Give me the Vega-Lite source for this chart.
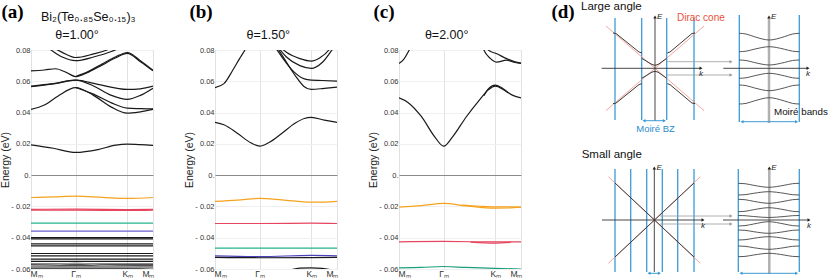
{
"$schema":"https://vega.github.io/schema/vega-lite/v6.json",
"autosize":{"type":"pad"},
"padding":{"left":0,"top":1,"right":0,"bottom":0},
"background":"white",
"config":{"font":"Liberation Sans","view":{"stroke":"#999","strokeWidth":1}},
"bounds":"flush",
"spacing":62,
"resolve":{"scale":{"color":"independent","shape":"independent"}},
"datasets":{
"bands":[
{"p":"a","b":"a01","t":"o","k":0.35,"E":0.082},{"p":"a","b":"a01","t":"o","k":0.45,"E":0.080},{"p":"a","b":"a01","t":"o","k":0.7,"E":0.0755},{"p":"a","b":"a01","t":"o","k":1,"E":0.0732},{"p":"a","b":"a01","t":"o","k":1.4,"E":0.0755},{"p":"a","b":"a01","t":"o","k":1.8,"E":0.079},{"p":"a","b":"a01","t":"o","k":2.0,"E":0.0815},
{"p":"a","b":"a02","t":"o","k":0.5,"E":0.0815},{"p":"a","b":"a02","t":"o","k":0.7,"E":0.0785},{"p":"a","b":"a02","t":"o","k":1,"E":0.0752},{"p":"a","b":"a02","t":"o","k":1.4,"E":0.0775},{"p":"a","b":"a02","t":"o","k":1.7,"E":0.080},{"p":"a","b":"a02","t":"o","k":1.8,"E":0.0815},
{"p":"a","b":"a03","t":"o","k":0,"E":0.0667},{"p":"a","b":"a03","t":"o","k":0.3,"E":0.0672},{"p":"a","b":"a03","t":"o","k":0.55,"E":0.068},{"p":"a","b":"a03","t":"o","k":0.8,"E":0.0655},{"p":"a","b":"a03","t":"o","k":1,"E":0.063},{"p":"a","b":"a03","t":"o","k":1.3,"E":0.066},{"p":"a","b":"a03","t":"o","k":1.6,"E":0.0705},{"p":"a","b":"a03","t":"o","k":1.9,"E":0.075},{"p":"a","b":"a03","t":"o","k":2.155,"E":0.0778},{"p":"a","b":"a03","t":"o","k":2.45,"E":0.0725},{"p":"a","b":"a03","t":"o","k":2.732,"E":0.0667},
{"p":"a","b":"a04","t":"o","k":1,"E":0.063},{"p":"a","b":"a04","t":"o","k":1.3,"E":0.0665},{"p":"a","b":"a04","t":"o","k":1.6,"E":0.0712},{"p":"a","b":"a04","t":"o","k":1.9,"E":0.0757},{"p":"a","b":"a04","t":"o","k":2.155,"E":0.0784},{"p":"a","b":"a04","t":"o","k":2.45,"E":0.0732},{"p":"a","b":"a04","t":"o","k":2.732,"E":0.067},
{"p":"a","b":"a05","t":"o","k":0,"E":0.0569},{"p":"a","b":"a05","t":"o","k":0.5,"E":0.0585},{"p":"a","b":"a05","t":"o","k":1,"E":0.0607},{"p":"a","b":"a05","t":"o","k":1.5,"E":0.058},{"p":"a","b":"a05","t":"o","k":2.155,"E":0.0548},{"p":"a","b":"a05","t":"o","k":2.45,"E":0.0552},{"p":"a","b":"a05","t":"o","k":2.732,"E":0.0569},
{"p":"a","b":"a06","t":"o","k":0,"E":0.0565},{"p":"a","b":"a06","t":"o","k":0.5,"E":0.0583},{"p":"a","b":"a06","t":"o","k":1,"E":0.0607},{"p":"a","b":"a06","t":"o","k":1.4,"E":0.057},{"p":"a","b":"a06","t":"o","k":1.8,"E":0.051},{"p":"a","b":"a06","t":"o","k":2.155,"E":0.0484},{"p":"a","b":"a06","t":"o","k":2.45,"E":0.051},{"p":"a","b":"a06","t":"o","k":2.732,"E":0.0556},
{"p":"a","b":"a07","t":"o","k":0,"E":0.042},{"p":"a","b":"a07","t":"o","k":0.3,"E":0.0448},{"p":"a","b":"a07","t":"o","k":0.6,"E":0.0505},{"p":"a","b":"a07","t":"o","k":1,"E":0.056},{"p":"a","b":"a07","t":"o","k":1.4,"E":0.051},{"p":"a","b":"a07","t":"o","k":1.8,"E":0.0435},{"p":"a","b":"a07","t":"o","k":2.155,"E":0.0396},{"p":"a","b":"a07","t":"o","k":2.45,"E":0.0405},{"p":"a","b":"a07","t":"o","k":2.732,"E":0.042},
{"p":"a","b":"a08","t":"o","k":1,"E":0.056},{"p":"a","b":"a08","t":"o","k":1.4,"E":0.0518},{"p":"a","b":"a08","t":"o","k":1.8,"E":0.0462},{"p":"a","b":"a08","t":"o","k":2.155,"E":0.0428},{"p":"a","b":"a08","t":"o","k":2.45,"E":0.0425},{"p":"a","b":"a08","t":"o","k":2.732,"E":0.0423},
{"p":"a","b":"a09","t":"o","k":0,"E":0.0194},{"p":"a","b":"a09","t":"o","k":0.5,"E":0.0172},{"p":"a","b":"a09","t":"o","k":1,"E":0.0145},{"p":"a","b":"a09","t":"o","k":1.5,"E":0.0163},{"p":"a","b":"a09","t":"o","k":1.9,"E":0.0192},{"p":"a","b":"a09","t":"o","k":2.155,"E":0.0198},{"p":"a","b":"a09","t":"o","k":2.45,"E":0.0195},{"p":"a","b":"a09","t":"o","k":2.732,"E":0.019},
{"p":"a","b":"a10","t":"v1","k":0,"E":-0.0143},{"p":"a","b":"a10","t":"v1","k":0.5,"E":-0.0139},{"p":"a","b":"a10","t":"v1","k":1,"E":-0.0134},{"p":"a","b":"a10","t":"v1","k":1.6,"E":-0.0142},{"p":"a","b":"a10","t":"v1","k":2.155,"E":-0.0149},{"p":"a","b":"a10","t":"v1","k":2.732,"E":-0.0143},
{"p":"a","b":"a11","t":"v2","k":0,"E":-0.0219},{"p":"a","b":"a11","t":"v2","k":1,"E":-0.0217},{"p":"a","b":"a11","t":"v2","k":2.155,"E":-0.022},{"p":"a","b":"a11","t":"v2","k":2.732,"E":-0.0219},
{"p":"a","b":"a12","t":"v2","k":0,"E":-0.0224},{"p":"a","b":"a12","t":"v2","k":1,"E":-0.0224},{"p":"a","b":"a12","t":"v2","k":2.155,"E":-0.0226},{"p":"a","b":"a12","t":"v2","k":2.732,"E":-0.0224},
{"p":"a","b":"a13","t":"v3","k":0,"E":-0.0307},{"p":"a","b":"a13","t":"v3","k":2.732,"E":-0.0307},
{"p":"a","b":"a14","t":"v4","k":0,"E":-0.0358},{"p":"a","b":"a14","t":"v4","k":2.732,"E":-0.0358},
{"p":"a","b":"a15","t":"o","k":0,"E":-0.040},{"p":"a","b":"a15","t":"o","k":2.732,"E":-0.040},
{"p":"a","b":"a16","t":"o","k":0,"E":-0.0408},{"p":"a","b":"a16","t":"o","k":2.732,"E":-0.0408},
{"p":"a","b":"a17","t":"o","k":0,"E":-0.044},{"p":"a","b":"a17","t":"o","k":2.732,"E":-0.044},
{"p":"a","b":"a18","t":"o","k":0,"E":-0.0452},{"p":"a","b":"a18","t":"o","k":2.732,"E":-0.0452},
{"p":"a","b":"a19","t":"o","k":0,"E":-0.0501},{"p":"a","b":"a19","t":"o","k":2.732,"E":-0.0501},
{"p":"a","b":"a20","t":"o","k":0,"E":-0.0516},{"p":"a","b":"a20","t":"o","k":2.732,"E":-0.0516},
{"p":"a","b":"a21","t":"o","k":0,"E":-0.0537},{"p":"a","b":"a21","t":"o","k":2.732,"E":-0.0537},
{"p":"a","b":"a22","t":"o","k":0,"E":-0.0551},{"p":"a","b":"a22","t":"o","k":2.732,"E":-0.0551},
{"p":"a","b":"a23","t":"o","k":0,"E":-0.0569},{"p":"a","b":"a23","t":"o","k":2.732,"E":-0.0569},
{"p":"a","b":"a24","t":"o","k":0,"E":-0.058},{"p":"a","b":"a24","t":"o","k":2.732,"E":-0.058},
{"p":"a","b":"a25","t":"o","k":0,"E":-0.0594},{"p":"a","b":"a25","t":"o","k":2.732,"E":-0.0594},
{"p":"a","b":"a26","t":"f","k":0,"E":-0.0578},{"p":"a","b":"a26","t":"f","k":0.6,"E":-0.0572},{"p":"a","b":"a26","t":"f","k":1,"E":-0.0562},{"p":"a","b":"a26","t":"f","k":1.5,"E":-0.0575},{"p":"a","b":"a26","t":"f","k":2.155,"E":-0.0583},{"p":"a","b":"a26","t":"f","k":2.732,"E":-0.0598},

{"p":"b","b":"b01","t":"o","k":0,"E":0.056},{"p":"b","b":"b01","t":"o","k":0.2,"E":0.0585},{"p":"b","b":"b01","t":"o","k":0.4,"E":0.0672},{"p":"b","b":"b01","t":"o","k":0.55,"E":0.0745},{"p":"b","b":"b01","t":"o","k":0.67,"E":0.080},{"p":"b","b":"b01","t":"o","k":0.75,"E":0.0845},
{"p":"b","b":"b02","t":"o","k":1.32,"E":0.083},{"p":"b","b":"b02","t":"o","k":1.5,"E":0.0755},{"p":"b","b":"b02","t":"o","k":1.75,"E":0.0665},{"p":"b","b":"b02","t":"o","k":2.0,"E":0.0615},{"p":"b","b":"b02","t":"o","k":2.155,"E":0.0607},{"p":"b","b":"b02","t":"o","k":2.4,"E":0.0605},{"p":"b","b":"b02","t":"o","k":2.732,"E":0.0601},
{"p":"b","b":"b03","t":"o","k":1.36,"E":0.083},{"p":"b","b":"b03","t":"o","k":1.55,"E":0.0745},{"p":"b","b":"b03","t":"o","k":1.8,"E":0.0635},{"p":"b","b":"b03","t":"o","k":2.0,"E":0.0565},{"p":"b","b":"b03","t":"o","k":2.155,"E":0.0548},{"p":"b","b":"b03","t":"o","k":2.45,"E":0.0555},{"p":"b","b":"b03","t":"o","k":2.732,"E":0.0563},
{"p":"b","b":"b04","t":"o","k":1.42,"E":0.083},{"p":"b","b":"b04","t":"o","k":1.6,"E":0.0785},{"p":"b","b":"b04","t":"o","k":1.9,"E":0.0745},{"p":"b","b":"b04","t":"o","k":2.155,"E":0.0729},{"p":"b","b":"b04","t":"o","k":2.35,"E":0.075},{"p":"b","b":"b04","t":"o","k":2.55,"E":0.080},{"p":"b","b":"b04","t":"o","k":2.62,"E":0.083},
{"p":"b","b":"b05","t":"o","k":1.38,"E":0.083},{"p":"b","b":"b05","t":"o","k":1.6,"E":0.0755},{"p":"b","b":"b05","t":"o","k":1.9,"E":0.070},{"p":"b","b":"b05","t":"o","k":2.155,"E":0.0682},{"p":"b","b":"b05","t":"o","k":2.4,"E":0.072},{"p":"b","b":"b05","t":"o","k":2.62,"E":0.080},{"p":"b","b":"b05","t":"o","k":2.7,"E":0.083},
{"p":"b","b":"b06","t":"o","k":0,"E":0.0337},{"p":"b","b":"b06","t":"o","k":0.2,"E":0.0322},{"p":"b","b":"b06","t":"o","k":0.5,"E":0.0268},{"p":"b","b":"b06","t":"o","k":0.8,"E":0.0207},{"p":"b","b":"b06","t":"o","k":1,"E":0.0185},{"p":"b","b":"b06","t":"o","k":1.2,"E":0.0207},{"p":"b","b":"b06","t":"o","k":1.5,"E":0.0268},{"p":"b","b":"b06","t":"o","k":1.8,"E":0.0333},{"p":"b","b":"b06","t":"o","k":2.0,"E":0.0362},{"p":"b","b":"b06","t":"o","k":2.155,"E":0.0369},{"p":"b","b":"b06","t":"o","k":2.45,"E":0.0352},{"p":"b","b":"b06","t":"o","k":2.732,"E":0.0337},
{"p":"b","b":"b07","t":"v1","k":0,"E":-0.0168},{"p":"b","b":"b07","t":"v1","k":0.5,"E":-0.016},{"p":"b","b":"b07","t":"v1","k":1,"E":-0.0149},{"p":"b","b":"b07","t":"v1","k":1.5,"E":-0.0158},{"p":"b","b":"b07","t":"v1","k":2.155,"E":-0.0173},{"p":"b","b":"b07","t":"v1","k":2.45,"E":-0.0172},{"p":"b","b":"b07","t":"v1","k":2.732,"E":-0.0168},
{"p":"b","b":"b08","t":"v2","k":0,"E":-0.0309},{"p":"b","b":"b08","t":"v2","k":1,"E":-0.0309},{"p":"b","b":"b08","t":"v2","k":2.155,"E":-0.0307},{"p":"b","b":"b08","t":"v2","k":2.732,"E":-0.0309},
{"p":"b","b":"b09","t":"v3","k":0,"E":-0.0467},{"p":"b","b":"b09","t":"v3","k":2.732,"E":-0.0467},
{"p":"b","b":"b10","t":"v4","k":0,"E":-0.0516},{"p":"b","b":"b10","t":"v4","k":1,"E":-0.0521},{"p":"b","b":"b10","t":"v4","k":2.155,"E":-0.0513},{"p":"b","b":"b10","t":"v4","k":2.732,"E":-0.0516},
{"p":"b","b":"b11","t":"o","k":0,"E":-0.0526},{"p":"b","b":"b11","t":"o","k":1,"E":-0.0528},{"p":"b","b":"b11","t":"o","k":2.155,"E":-0.0527},{"p":"b","b":"b11","t":"o","k":2.732,"E":-0.0526},
{"p":"b","b":"b12","t":"o","k":1.7,"E":-0.0605},{"p":"b","b":"b12","t":"o","k":1.9,"E":-0.0595},{"p":"b","b":"b12","t":"o","k":2.155,"E":-0.0593},{"p":"b","b":"b12","t":"o","k":2.4,"E":-0.0596},{"p":"b","b":"b12","t":"o","k":2.6,"E":-0.0605},

{"p":"c","b":"c01","t":"o","k":0,"E":0.0714},{"p":"c","b":"c01","t":"o","k":0.1,"E":0.0738},{"p":"c","b":"c01","t":"o","k":0.23,"E":0.080},{"p":"c","b":"c01","t":"o","k":0.3,"E":0.084},
{"p":"c","b":"c02","t":"o","k":1.86,"E":0.083},{"p":"c","b":"c02","t":"o","k":1.9,"E":0.080},{"p":"c","b":"c02","t":"o","k":2.05,"E":0.0745},{"p":"c","b":"c02","t":"o","k":2.19,"E":0.0722},{"p":"c","b":"c02","t":"o","k":2.41,"E":0.0735},{"p":"c","b":"c02","t":"o","k":2.6,"E":0.072},{"p":"c","b":"c02","t":"o","k":2.732,"E":0.0714},
{"p":"c","b":"c03","t":"o","k":1.95,"E":0.083},{"p":"c","b":"c03","t":"o","k":2.0,"E":0.080},{"p":"c","b":"c03","t":"o","k":2.19,"E":0.0776},{"p":"c","b":"c03","t":"o","k":2.41,"E":0.0745},{"p":"c","b":"c03","t":"o","k":2.6,"E":0.0725},{"p":"c","b":"c03","t":"o","k":2.732,"E":0.0716},
{"p":"c","b":"c04","t":"o","k":0,"E":0.0494},{"p":"c","b":"c04","t":"o","k":0.2,"E":0.0465},{"p":"c","b":"c04","t":"o","k":0.5,"E":0.0375},{"p":"c","b":"c04","t":"o","k":0.8,"E":0.0245},{"p":"c","b":"c04","t":"o","k":1,"E":0.0185},{"p":"c","b":"c04","t":"o","k":1.2,"E":0.0245},{"p":"c","b":"c04","t":"o","k":1.5,"E":0.037},{"p":"c","b":"c04","t":"o","k":1.8,"E":0.048},{"p":"c","b":"c04","t":"o","k":2.0,"E":0.0545},{"p":"c","b":"c04","t":"o","k":2.155,"E":0.0569},{"p":"c","b":"c04","t":"o","k":2.35,"E":0.0545},{"p":"c","b":"c04","t":"o","k":2.55,"E":0.051},{"p":"c","b":"c04","t":"o","k":2.732,"E":0.0494},
{"p":"c","b":"c05","t":"o","k":1.9,"E":0.0508},{"p":"c","b":"c05","t":"o","k":2.0,"E":0.0552},{"p":"c","b":"c05","t":"o","k":2.155,"E":0.0576},{"p":"c","b":"c05","t":"o","k":2.3,"E":0.0558},{"p":"c","b":"c05","t":"o","k":2.45,"E":0.0525},
{"p":"c","b":"c06","t":"v1","k":0,"E":-0.0205},{"p":"c","b":"c06","t":"v1","k":0.5,"E":-0.0195},{"p":"c","b":"c06","t":"v1","k":1,"E":-0.0181},{"p":"c","b":"c06","t":"v1","k":1.5,"E":-0.0196},{"p":"c","b":"c06","t":"v1","k":2.155,"E":-0.0211},{"p":"c","b":"c06","t":"v1","k":2.45,"E":-0.021},{"p":"c","b":"c06","t":"v1","k":2.732,"E":-0.0205},
{"p":"c","b":"c07","t":"v1","k":1.4,"E":-0.0192},{"p":"c","b":"c07","t":"v1","k":1.8,"E":-0.0199},{"p":"c","b":"c07","t":"v1","k":2.155,"E":-0.0203},{"p":"c","b":"c07","t":"v1","k":2.45,"E":-0.0203},{"p":"c","b":"c07","t":"v1","k":2.732,"E":-0.0204},
{"p":"c","b":"c08","t":"v2","k":0,"E":-0.0426},{"p":"c","b":"c08","t":"v2","k":1,"E":-0.0424},{"p":"c","b":"c08","t":"v2","k":2.155,"E":-0.0427},{"p":"c","b":"c08","t":"v2","k":2.732,"E":-0.0426},
{"p":"c","b":"c09","t":"v2","k":1.6,"E":-0.0428},{"p":"c","b":"c09","t":"v2","k":2.155,"E":-0.0434},{"p":"c","b":"c09","t":"v2","k":2.5,"E":-0.043},
{"p":"c","b":"c10","t":"v3","k":0,"E":-0.0593},{"p":"c","b":"c10","t":"v3","k":0.5,"E":-0.059},{"p":"c","b":"c10","t":"v3","k":1,"E":-0.0584},{"p":"c","b":"c10","t":"v3","k":1.5,"E":-0.059},{"p":"c","b":"c10","t":"v3","k":2.155,"E":-0.0596},{"p":"c","b":"c10","t":"v3","k":2.732,"E":-0.06}
],
"ptext":[
{"p":"a","r":"panel","k":-0.414,"E":0.1045,"s":"(a)"},
{"p":"a","r":"title","k":1.283,"E":0.1012,"s":"Bi₂(Te₀.₈₅Se₀.₁₅)₃"},
{"p":"a","r":"title","k":1.03,"E":0.0895,"s":"θ=1.00°"},
{"p":"b","r":"panel","k":-0.313,"E":0.1045,"s":"(b)"},
{"p":"b","r":"title","k":1.194,"E":0.0895,"s":"θ=1.50°"},
{"p":"c","r":"panel","k":-0.336,"E":0.1045,"s":"(c)"},
{"p":"c","r":"title","k":1.068,"E":0.0895,"s":"θ=2.00°"}
],
"drules":[
{"g":"bz","x":615,"y":18,"x2":615,"y2":120},{"g":"bz","x":641.7,"y":18,"x2":641.7,"y2":120},{"g":"bz","x":666.7,"y":18,"x2":666.7,"y2":120},{"g":"bz","x":694,"y":18,"x2":694,"y2":120},
{"g":"bz","x":739.3,"y":15,"x2":739.3,"y2":122},{"g":"bz","x":799.3,"y":15,"x2":799.3,"y2":122},
{"g":"bz","x":615,"y":169,"x2":615,"y2":272},{"g":"bz","x":630.7,"y":169,"x2":630.7,"y2":272},{"g":"bz","x":646.7,"y":169,"x2":646.7,"y2":272},{"g":"bz","x":662.3,"y":169,"x2":662.3,"y2":272},{"g":"bz","x":677.7,"y":169,"x2":677.7,"y2":272},{"g":"bz","x":694,"y":169,"x2":694,"y2":272},
{"g":"bz","x":738.3,"y":169,"x2":738.3,"y2":272},{"g":"bz","x":799.3,"y":169,"x2":799.3,"y2":272},
{"g":"cone","x":606,"y":26,"x2":704,"y2":110.6},{"g":"cone","x":606,"y":110.6,"x2":704,"y2":26},
{"g":"cone","x":608.3,"y":176.7,"x2":700.3,"y2":263.3},{"g":"cone","x":608.3,"y":263.3,"x2":700.3,"y2":176.7},
{"g":"ax","x":655,"y":121,"x2":655,"y2":17},{"g":"ax","x":601.7,"y":68.3,"x2":701,"y2":68.3},{"g":"ax","x":723.3,"y":68.3,"x2":808,"y2":68.3},
{"g":"ax","x":654.3,"y":272,"x2":654.3,"y2":168},{"g":"ax","x":602,"y":220,"x2":703,"y2":220},{"g":"ax","x":723,"y":220,"x2":809,"y2":220},
{"g":"gax","x":769,"y":123,"x2":769,"y2":17},{"g":"gax","x":769.3,"y":274,"x2":769.3,"y2":168},
{"g":"arr","x":666.7,"y":61.7,"x2":731,"y2":61.7},{"g":"arr","x":666.7,"y":75,"x2":731,"y2":75},
{"g":"arr","x":660,"y":216,"x2":731,"y2":216},{"g":"arr","x":660,"y":224,"x2":731,"y2":224},
{"g":"bzarr","x":644,"y":120.7,"x2":664.4,"y2":120.7},{"g":"bzarr","x":742,"y":121.7,"x2":796.6,"y2":121.7},
{"g":"bzarr","x":649,"y":273.3,"x2":659.4,"y2":273.3},{"g":"bzarr","x":741,"y":273.3,"x2":796.6,"y2":273.3}
],
"segs":[
{"s":"s1","x":613,"y":33},{"s":"s1","x":616,"y":33.5},{"s":"s1","x":639,"y":52},{"s":"s1","x":642,"y":53},
{"s":"s2","x":641.7,"y":58.3},{"s":"s2","x":652,"y":64.5},{"s":"s2","x":655,"y":65.3},{"s":"s2","x":658,"y":64.5},{"s":"s2","x":666.7,"y":58.3},
{"s":"s3","x":667.3,"y":53},{"s":"s3","x":670,"y":52},{"s":"s3","x":692,"y":33.5},{"s":"s3","x":695,"y":33},
{"s":"s4","x":613,"y":103.6},{"s":"s4","x":616,"y":103.1},{"s":"s4","x":639,"y":84.6},{"s":"s4","x":642,"y":83.6},
{"s":"s5","x":641.7,"y":78.3},{"s":"s5","x":652,"y":72.1},{"s":"s5","x":655,"y":71.3},{"s":"s5","x":658,"y":72.1},{"s":"s5","x":666.7,"y":78.3},
{"s":"s6","x":667.3,"y":83.6},{"s":"s6","x":670,"y":84.6},{"s":"s6","x":692,"y":103.1},{"s":"s6","x":695,"y":103.6},
{"s":"s7","x":615,"y":183},{"s":"s7","x":694,"y":257},
{"s":"s8","x":615,"y":257},{"s":"s8","x":694,"y":183}
],
"waves":[
{"w":"t1","x":739.3,"y":33.3},{"w":"t1","x":746,"y":34.0},{"w":"t1","x":754.3,"y":36.7},{"w":"t1","x":769.3,"y":40},{"w":"t1","x":784.3,"y":36.7},{"w":"t1","x":792.6,"y":34.0},{"w":"t1","x":799.3,"y":33.3},
{"w":"t2","x":739.3,"y":51.7},{"w":"t2","x":746,"y":51.2},{"w":"t2","x":754.3,"y":49.2},{"w":"t2","x":769.3,"y":46.7},{"w":"t2","x":784.3,"y":49.2},{"w":"t2","x":792.6,"y":51.2},{"w":"t2","x":799.3,"y":51.7},
{"w":"t3","x":739.3,"y":60},{"w":"t3","x":746,"y":60.5},{"w":"t3","x":754.3,"y":62.5},{"w":"t3","x":769.3,"y":65},{"w":"t3","x":784.3,"y":62.5},{"w":"t3","x":792.6,"y":60.5},{"w":"t3","x":799.3,"y":60},
{"w":"t4","x":739.3,"y":78.3},{"w":"t4","x":746,"y":77.8},{"w":"t4","x":754.3,"y":75.8},{"w":"t4","x":769.3,"y":73.3},{"w":"t4","x":784.3,"y":75.8},{"w":"t4","x":792.6,"y":77.8},{"w":"t4","x":799.3,"y":78.3},
{"w":"t5","x":739.3,"y":85},{"w":"t5","x":746,"y":85.6},{"w":"t5","x":754.3,"y":87.9},{"w":"t5","x":769.3,"y":90.7},{"w":"t5","x":784.3,"y":87.9},{"w":"t5","x":792.6,"y":85.6},{"w":"t5","x":799.3,"y":85},
{"w":"t6","x":739.3,"y":104},{"w":"t6","x":746,"y":103.4},{"w":"t6","x":754.3,"y":100.9},{"w":"t6","x":769.3,"y":97.7},{"w":"t6","x":784.3,"y":100.9},{"w":"t6","x":792.6,"y":103.4},{"w":"t6","x":799.3,"y":104},
{"w":"u1","x":738.3,"y":183.3},{"w":"u1","x":745,"y":183.7},{"w":"u1","x":753.6,"y":185.3},{"w":"u1","x":768.8,"y":187.3},{"w":"u1","x":784.1,"y":185.3},{"w":"u1","x":792.6,"y":183.7},{"w":"u1","x":799.3,"y":183.3},
{"w":"u2","x":738.3,"y":195},{"w":"u2","x":745,"y":194.7},{"w":"u2","x":753.6,"y":193.3},{"w":"u2","x":768.8,"y":191.7},{"w":"u2","x":784.1,"y":193.3},{"w":"u2","x":792.6,"y":194.7},{"w":"u2","x":799.3,"y":195},
{"w":"u3","x":738.3,"y":199.3},{"w":"u3","x":745,"y":199.7},{"w":"u3","x":753.6,"y":201.3},{"w":"u3","x":768.8,"y":203.3},{"w":"u3","x":784.1,"y":201.3},{"w":"u3","x":792.6,"y":199.7},{"w":"u3","x":799.3,"y":199.3},
{"w":"u4","x":738.3,"y":211.7},{"w":"u4","x":745,"y":211.3},{"w":"u4","x":753.6,"y":209.7},{"w":"u4","x":768.8,"y":207.7},{"w":"u4","x":784.1,"y":209.7},{"w":"u4","x":792.6,"y":211.3},{"w":"u4","x":799.3,"y":211.7},
{"w":"u5","x":738.3,"y":215.5},{"w":"u5","x":745,"y":215.7},{"w":"u5","x":753.6,"y":216.5},{"w":"u5","x":768.8,"y":217.5},{"w":"u5","x":784.1,"y":216.5},{"w":"u5","x":792.6,"y":215.7},{"w":"u5","x":799.3,"y":215.5},
{"w":"u6","x":738.3,"y":226},{"w":"u6","x":745,"y":225.6},{"w":"u6","x":753.6,"y":224},{"w":"u6","x":768.8,"y":221.7},{"w":"u6","x":784.1,"y":224},{"w":"u6","x":792.6,"y":225.6},{"w":"u6","x":799.3,"y":226},
{"w":"u7","x":738.3,"y":230},{"w":"u7","x":745,"y":230.3},{"w":"u7","x":753.6,"y":231.7},{"w":"u7","x":768.8,"y":233.3},{"w":"u7","x":784.1,"y":231.7},{"w":"u7","x":792.6,"y":230.3},{"w":"u7","x":799.3,"y":230},
{"w":"u8","x":738.3,"y":240},{"w":"u8","x":745,"y":239.7},{"w":"u8","x":753.6,"y":238.3},{"w":"u8","x":768.8,"y":236.7},{"w":"u8","x":784.1,"y":238.3},{"w":"u8","x":792.6,"y":239.7},{"w":"u8","x":799.3,"y":240},
{"w":"u9","x":738.3,"y":246},{"w":"u9","x":745,"y":246.3},{"w":"u9","x":753.6,"y":247.7},{"w":"u9","x":768.8,"y":249.3},{"w":"u9","x":784.1,"y":247.7},{"w":"u9","x":792.6,"y":246.3},{"w":"u9","x":799.3,"y":246},
{"w":"u10","x":738.3,"y":256.7},{"w":"u10","x":745,"y":256.4},{"w":"u10","x":753.6,"y":255},{"w":"u10","x":768.8,"y":253.3},{"w":"u10","x":784.1,"y":255},{"w":"u10","x":792.6,"y":256.4},{"w":"u10","x":799.3,"y":256.7}
],
"heads":[
{"g":"k","d":"up","x":655,"y":17},{"g":"k","d":"up","x":654.3,"y":168},{"g":"k","d":"up","x":769,"y":17},{"g":"k","d":"up","x":769.3,"y":168},
{"g":"k","d":"right","x":701,"y":68.3},{"g":"k","d":"right","x":808,"y":68.3},{"g":"k","d":"right","x":703,"y":220},{"g":"k","d":"right","x":809,"y":220},
{"g":"gray","d":"right","x":731,"y":61.7},{"g":"gray","d":"right","x":731,"y":75},{"g":"gray","d":"right","x":731,"y":216},{"g":"gray","d":"right","x":731,"y":224},
{"g":"blue","d":"left","x":644,"y":120.7},{"g":"blue","d":"right","x":664.4,"y":120.7},{"g":"blue","d":"left","x":742,"y":121.7},{"g":"blue","d":"right","x":796.6,"y":121.7},
{"g":"blue","d":"left","x":649,"y":273.3},{"g":"blue","d":"right","x":659.4,"y":273.3},{"g":"blue","d":"left","x":741,"y":273.3},{"g":"blue","d":"right","x":796.6,"y":273.3}
],
"dtext":[
{"g":"panel","x":563,"y":11.5,"s":"(d)"},
{"g":"head","x":581,"y":7,"s":"Large angle"},
{"g":"head","x":581.7,"y":155,"s":"Small angle"},
{"g":"red","x":677,"y":18.3,"s":"Dirac cone"},
{"g":"blue","x":655.5,"y":128.5,"s":"Moiré BZ"},
{"g":"black","x":774,"y":112,"s":"Moiré bands"},
{"g":"E","x":657,"y":17,"s":"E"},{"g":"E","x":656.5,"y":168,"s":"E"},{"g":"E","x":771,"y":17,"s":"E"},{"g":"E","x":771.3,"y":168,"s":"E"},
{"g":"k","x":701,"y":73.5,"s":"k"},{"g":"k","x":808,"y":73.5,"s":"k"},{"g":"k","x":703,"y":225.5,"s":"k"},{"g":"k","x":809,"y":225.5,"s":"k"}
]
},
"hconcat":[
{"width":122,"height":219,
 "encoding":{
  "x":{"field":"k","type":"quantitative","scale":{"domain":[0,2.732],"nice":false,"zero":false},"axis":{"values":[0,1,2.1547,2.732],"labelExpr":"datum.value < 0.5 ? 'Mₘ' : datum.value < 1.5 ? 'Γₘ' : datum.value < 2.5 ? 'Kₘ' : 'Mₘ'","title":null,"ticks":false,"domain":false,"labelPadding":0,"labelFontSize":8.5,"labelColor":"#333","labelFlush":true,"labelFlushOffset":1,"labelOverlap":false,"labelBound":false,"grid":true,"gridColor":"#e2e2e2"}},
  "y":{"field":"E","type":"quantitative","scale":{"domain":[-0.06,0.08],"nice":false,"zero":false},"axis":{"values":[-0.06,-0.04,-0.02,0,0.02,0.04,0.06,0.08],"labelExpr":"datum.value == 0 ? '0.' : datum.value < 0 ? '- ' + format(-datum.value, '.2f') : format(datum.value, '.2f')","title":"Energy (eV)","titleFontSize":10.5,"titleFontWeight":"normal","titleColor":"#222","titlePadding":0,"ticks":false,"domain":false,"labelPadding":1,"labelFontSize":7.5,"labelColor":"#333","grid":true,"gridColor":{"condition":{"test":"datum.value === 0","value":"#8a8a8a"},"value":"#efefef"}}}
 },
 "layer":[
  {"data":{"name":"bands"},"transform":[{"filter":"datum.p == 'a'"}],"mark":{"type":"line","interpolate":"monotone","clip":true,"strokeWidth":1.2},"encoding":{"detail":{"field":"b"},"order":{"field":"k"},"color":{"field":"t","type":"nominal","legend":null,"scale":{"domain":["o","v1","v2","v3","v4","f"],"range":["#1a1a1a","#f5a31e","#e6455e","#22b38c","#6a60d0","#9a9a9a"]}}}},
  {"data":{"name":"ptext"},"transform":[{"filter":"datum.p == 'a' && datum.r == 'panel'"}],"mark":{"type":"text","font":"Liberation Serif","fontWeight":"bold","fontSize":19,"baseline":"middle"},"encoding":{"text":{"field":"s"}}},
  {"data":{"name":"ptext"},"transform":[{"filter":"datum.p == 'a' && datum.r == 'title'"}],"mark":{"type":"text","fontSize":12.5,"baseline":"middle","color":"#111"},"encoding":{"text":{"field":"s"}}}
 ]},
{"width":122,"height":219,
 "encoding":{
  "x":{"field":"k","type":"quantitative","scale":{"domain":[0,2.732],"nice":false,"zero":false},"axis":{"values":[0,1,2.1547,2.732],"labelExpr":"datum.value < 0.5 ? 'Mₘ' : datum.value < 1.5 ? 'Γₘ' : datum.value < 2.5 ? 'Kₘ' : 'Mₘ'","title":null,"ticks":false,"domain":false,"labelPadding":0,"labelFontSize":8.5,"labelColor":"#333","labelFlush":true,"labelFlushOffset":1,"labelOverlap":false,"labelBound":false,"grid":true,"gridColor":"#e2e2e2"}},
  "y":{"field":"E","type":"quantitative","scale":{"domain":[-0.06,0.08],"nice":false,"zero":false},"axis":{"values":[-0.06,-0.04,-0.02,0,0.02,0.04,0.06,0.08],"labelExpr":"datum.value == 0 ? '0.' : datum.value < 0 ? '- ' + format(-datum.value, '.2f') : format(datum.value, '.2f')","title":"Energy (eV)","titleFontSize":10.5,"titleFontWeight":"normal","titleColor":"#222","titlePadding":0,"ticks":false,"domain":false,"labelPadding":1,"labelFontSize":7.5,"labelColor":"#333","grid":true,"gridColor":{"condition":{"test":"datum.value === 0","value":"#8a8a8a"},"value":"#efefef"}}}
 },
 "layer":[
  {"data":{"name":"bands"},"transform":[{"filter":"datum.p == 'b'"}],"mark":{"type":"line","interpolate":"monotone","clip":true,"strokeWidth":1.2},"encoding":{"detail":{"field":"b"},"order":{"field":"k"},"color":{"field":"t","type":"nominal","legend":null,"scale":{"domain":["o","v1","v2","v3","v4","f"],"range":["#1a1a1a","#f5a31e","#e6455e","#22b38c","#4a40b8","#9a9a9a"]}}}},
  {"data":{"name":"ptext"},"transform":[{"filter":"datum.p == 'b' && datum.r == 'panel'"}],"mark":{"type":"text","font":"Liberation Serif","fontWeight":"bold","fontSize":19,"baseline":"middle"},"encoding":{"text":{"field":"s"}}},
  {"data":{"name":"ptext"},"transform":[{"filter":"datum.p == 'b' && datum.r == 'title'"}],"mark":{"type":"text","fontSize":12.5,"baseline":"middle","color":"#111"},"encoding":{"text":{"field":"s"}}}
 ]},
{"width":122,"height":219,
 "encoding":{
  "x":{"field":"k","type":"quantitative","scale":{"domain":[0,2.732],"nice":false,"zero":false},"axis":{"values":[0,1,2.1547,2.732],"labelExpr":"datum.value < 0.5 ? 'Mₘ' : datum.value < 1.5 ? 'Γₘ' : datum.value < 2.5 ? 'Kₘ' : 'Mₘ'","title":null,"ticks":false,"domain":false,"labelPadding":0,"labelFontSize":8.5,"labelColor":"#333","labelFlush":true,"labelFlushOffset":1,"labelOverlap":false,"labelBound":false,"grid":true,"gridColor":"#e2e2e2"}},
  "y":{"field":"E","type":"quantitative","scale":{"domain":[-0.06,0.08],"nice":false,"zero":false},"axis":{"values":[-0.06,-0.04,-0.02,0,0.02,0.04,0.06,0.08],"labelExpr":"datum.value == 0 ? '0.' : datum.value < 0 ? '- ' + format(-datum.value, '.2f') : format(datum.value, '.2f')","title":"Energy (eV)","titleFontSize":10.5,"titleFontWeight":"normal","titleColor":"#222","titlePadding":0,"ticks":false,"domain":false,"labelPadding":1,"labelFontSize":7.5,"labelColor":"#333","grid":true,"gridColor":{"condition":{"test":"datum.value === 0","value":"#8a8a8a"},"value":"#efefef"}}}
 },
 "layer":[
  {"data":{"name":"bands"},"transform":[{"filter":"datum.p == 'c'"}],"mark":{"type":"line","interpolate":"monotone","clip":true,"strokeWidth":1.2},"encoding":{"detail":{"field":"b"},"order":{"field":"k"},"color":{"field":"t","type":"nominal","legend":null,"scale":{"domain":["o","v1","v2","v3","v4","f"],"range":["#1a1a1a","#f5a31e","#e6455e","#1c9e7c","#6a60d0","#9a9a9a"]}}}},
  {"data":{"name":"ptext"},"transform":[{"filter":"datum.p == 'c' && datum.r == 'panel'"}],"mark":{"type":"text","font":"Liberation Serif","fontWeight":"bold","fontSize":19,"baseline":"middle"},"encoding":{"text":{"field":"s"}}},
  {"data":{"name":"ptext"},"transform":[{"filter":"datum.p == 'c' && datum.r == 'title'"}],"mark":{"type":"text","fontSize":12.5,"baseline":"middle","color":"#111"},"encoding":{"text":{"field":"s"}}}
 ]},
{"width":247,"height":219,"view":{"stroke":null},
 "encoding":{
  "x":{"field":"x","type":"quantitative","scale":{"domain":[583,830],"nice":false,"zero":false},"axis":null},
  "y":{"field":"y","type":"quantitative","scale":{"domain":[50,269],"nice":false,"zero":false,"reverse":true},"axis":null}
 },
 "layer":[
  {"data":{"name":"drules"},"transform":[{"filter":"datum.g == 'bz'"}],"mark":{"type":"rule","color":"#3d9bd4","strokeWidth":1.3},"encoding":{"x2":{"field":"x2"},"y2":{"field":"y2"}}},
  {"data":{"name":"drules"},"transform":[{"filter":"datum.g == 'cone'"}],"mark":{"type":"rule","color":"#f2907e","strokeWidth":0.8},"encoding":{"x2":{"field":"x2"},"y2":{"field":"y2"}}},
  {"data":{"name":"drules"},"transform":[{"filter":"datum.g == 'gax'"}],"mark":{"type":"rule","color":"#b0b0b0","strokeWidth":2.5},"encoding":{"x2":{"field":"x2"},"y2":{"field":"y2"}}},
  {"data":{"name":"drules"},"transform":[{"filter":"datum.g == 'ax'"}],"mark":{"type":"rule","color":"#333","strokeWidth":0.9},"encoding":{"x2":{"field":"x2"},"y2":{"field":"y2"}}},
  {"data":{"name":"drules"},"transform":[{"filter":"datum.g == 'arr'"}],"mark":{"type":"rule","color":"#9a9a9a","strokeWidth":0.8},"encoding":{"x2":{"field":"x2"},"y2":{"field":"y2"}}},
  {"data":{"name":"drules"},"transform":[{"filter":"datum.g == 'bzarr'"}],"mark":{"type":"rule","color":"#3d9bd4","strokeWidth":1},"encoding":{"x2":{"field":"x2"},"y2":{"field":"y2"}}},
  {"data":{"name":"segs"},"mark":{"type":"line","color":"#3a3a3a","strokeWidth":1},"encoding":{"detail":{"field":"s"},"order":{"field":"x"}}},
  {"data":{"name":"waves"},"mark":{"type":"line","color":"#444","strokeWidth":0.9,"interpolate":"monotone"},"encoding":{"detail":{"field":"w"},"order":{"field":"x"}}},
  {"data":{"name":"heads"},"mark":{"type":"point","filled":true,"size":12,"opacity":1},"encoding":{"shape":{"field":"d","type":"nominal","legend":null,"scale":{"domain":["up","right","left"],"range":["triangle-up","triangle-right","triangle-left"]}},"color":{"field":"g","type":"nominal","legend":null,"scale":{"domain":["k","gray","blue"],"range":["#222","#9a9a9a","#3d9bd4"]}}}},
  {"data":{"name":"dtext"},"transform":[{"filter":"datum.g == 'panel'"}],"mark":{"type":"text","font":"Liberation Serif","fontWeight":"bold","fontSize":19,"baseline":"middle"},"encoding":{"text":{"field":"s"}}},
  {"data":{"name":"dtext"},"transform":[{"filter":"datum.g == 'head'"}],"mark":{"type":"text","fontSize":11.5,"align":"left","baseline":"middle","color":"#111"},"encoding":{"text":{"field":"s"}}},
  {"data":{"name":"dtext"},"transform":[{"filter":"datum.g == 'red'"}],"mark":{"type":"text","fontSize":10,"align":"left","baseline":"middle","color":"#e8503a"},"encoding":{"text":{"field":"s"}}},
  {"data":{"name":"dtext"},"transform":[{"filter":"datum.g == 'blue'"}],"mark":{"type":"text","fontSize":9.5,"align":"center","baseline":"middle","color":"#2a8ccc"},"encoding":{"text":{"field":"s"}}},
  {"data":{"name":"dtext"},"transform":[{"filter":"datum.g == 'black'"}],"mark":{"type":"text","fontSize":9.8,"align":"left","baseline":"middle","color":"#111"},"encoding":{"text":{"field":"s"}}},
  {"data":{"name":"dtext"},"transform":[{"filter":"datum.g == 'E'"}],"mark":{"type":"text","fontSize":8,"fontStyle":"italic","align":"left","baseline":"middle","color":"#222"},"encoding":{"text":{"field":"s"}}},
  {"data":{"name":"dtext"},"transform":[{"filter":"datum.g == 'k'"}],"mark":{"type":"text","fontSize":8,"fontStyle":"italic","align":"center","baseline":"middle","color":"#222"},"encoding":{"text":{"field":"s"}}}
 ]}
]
}
